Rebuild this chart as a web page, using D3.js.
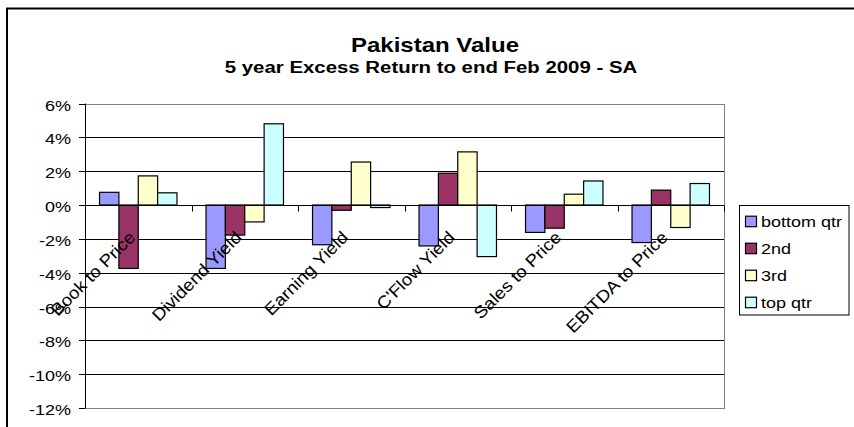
<!DOCTYPE html>
<html>
<head>
<meta charset="utf-8">
<script src="https://cdn.jsdelivr.net/npm/d3@7"></script>
<style>
  body { margin: 0; background: #fff; }
  text { font-family: "Liberation Sans", Arial, sans-serif; fill: #000; }
</style>
</head>
<body>
<svg id="chart"></svg>
<script>
// data
const categories = ["Book to Price", "Dividend Yield", "Earning Yield", "C'Flow Yield", "Sales to Price", "EBITDA to Price"];
const series = ["bottom qtr", "2nd", "3rd", "top qtr"];
const bottomQtr = [0.75, -3.75, -2.35, -2.42, -1.62, -2.22];
const second = [-3.75, -1.78, -0.31, 1.88, -1.37, 0.88];
const third = [1.72, -1.0, 2.54, 3.14, 0.64, -1.33];
const topQtr = [0.72, 4.8, -0.15, -3.05, 1.42, 1.27];
const yTicks = [6, 4, 2, 0, -2, -4, -6, -8, -10, -12];
const colors = ["#9999FF", "#993366", "#FFFFCC", "#CCFFFF"];

const values = [bottomQtr, second, third, topQtr];

const width = 854;
const height = 427;
const sx = 1.2; // picture is stretched horizontally a bit

const svg = d3.select('svg#chart').attr('width', width).attr('height', height);

// chart border (cut off at right and bottom)
svg.append('rect')
  .attr('x', 7).attr('y', 8.5)
  .attr('width', 1000).attr('height', 600)
  .attr('fill', 'none').attr('stroke', '#000').attr('stroke-width', 2);

const plot = { left: 85, right: 724, top: 103.5, bottom: 408 };

const y = d3.scaleLinear().domain([-12, 6]).range([plot.bottom, plot.top]);
const x0 = d3.scaleBand().domain(categories)
  .range([plot.left, plot.right])
  .paddingInner(1.5 / 5.5).paddingOuter(1.5 / 11);
const x1 = d3.scaleBand().domain(series).range([0, x0.bandwidth()]);
const step = x0.step();

function txt(g, x, yy, s, size, bold, anchor) {
  return g.append('text')
    .attr('transform', 'translate(' + x + ',' + yy + ') scale(' + sx + ',1)')
    .attr('text-anchor', anchor || 'start')
    .style('font-size', size + 'px')
    .style('font-weight', bold ? 'bold' : 'normal')
    .text(s);
}

// titles
txt(svg, 435, 51.7, "Pakistan Value", 20, true, 'middle');
txt(svg, 431, 72.7, "5 year Excess Return to end Feb 2009 - SA", 17, true, 'middle');

// gridlines
svg.append('g').selectAll('line').data(yTicks).enter().append('line')
  .attr('x1', plot.left).attr('x2', plot.right)
  .attr('y1', d => Math.round(y(d)) + 0.5).attr('y2', d => Math.round(y(d)) + 0.5)
  .attr('stroke', '#000').attr('stroke-width', 1);

// plot area border
svg.append('rect')
  .attr('x', plot.left + 0.5).attr('y', Math.round(plot.top) + 0.5)
  .attr('width', plot.right - plot.left)
  .attr('height', Math.round(plot.bottom) - Math.round(plot.top))
  .attr('fill', 'none').attr('stroke', '#808080');

// bars
const groups = svg.append('g').selectAll('g').data(categories).enter().append('g')
  .attr('transform', d => 'translate(' + x0(d) + ',0)');

groups.selectAll('rect')
  .data((c, i) => series.map((s, j) => ({ s: s, v: values[j][i], j: j })))
  .enter().append('rect')
  .attr('x', d => x1(d.s))
  .attr('width', x1.bandwidth())
  .attr('y', d => y(Math.max(0, d.v)))
  .attr('height', d => Math.abs(y(d.v) - y(0)))
  .attr('fill', d => colors[d.j])
  .attr('stroke', '#000').attr('stroke-width', 1.2);

// y axis
const yAxis = svg.append('g');
yAxis.append('line')
  .attr('x1', plot.left + 0.5).attr('x2', plot.left + 0.5)
  .attr('y1', plot.top).attr('y2', plot.bottom + 0.5)
  .attr('stroke', '#000');
yTicks.forEach(t => {
  yAxis.append('line')
    .attr('x1', plot.left - 6).attr('x2', plot.left)
    .attr('y1', Math.round(y(t)) + 0.5).attr('y2', Math.round(y(t)) + 0.5)
    .attr('stroke', '#000');
  txt(yAxis, 71, y(t) + 7, t + '%', 15, false, 'end');
});

// x axis at zero, with ticks between categories
const xAxis = svg.append('g');
const y0 = Math.round(y(0)) + 0.5;
xAxis.append('line')
  .attr('x1', plot.left).attr('x2', plot.right)
  .attr('y1', y0).attr('y2', y0).attr('stroke', '#000');
d3.range(categories.length + 1).forEach(i => {
  const xx = Math.round(plot.left + i * step) + 0.5;
  xAxis.append('line')
    .attr('x1', xx).attr('x2', xx)
    .attr('y1', y0).attr('y2', y0 + 6).attr('stroke', '#000');
});

// rotated category labels
categories.forEach(c => {
  const cx = x0(c) + x0.bandwidth() / 2;
  xAxis.append('text')
    .attr('transform', 'translate(' + (cx - 2) + ',238.5) rotate(-45) scale(1.1,1)')
    .attr('text-anchor', 'end')
    .style('font-size', '17px')
    .text(c);
});

// legend
const legend = svg.append('g');
legend.append('rect')
  .attr('x', 739.5).attr('y', 205.5).attr('width', 109.5).attr('height', 109.5)
  .attr('fill', '#fff').attr('stroke', '#000');
series.forEach((s, i) => {
  const cy = 221.7 + i * 27;
  legend.append('rect')
    .attr('x', 745.5).attr('y', cy - 5.5).attr('width', 11).attr('height', 10.5)
    .attr('fill', colors[i]).attr('stroke', '#000').attr('stroke-width', 1.2);
  txt(legend, 761, cy + 5.5, s, 15, false, 'start');
});
</script>
</body>
</html>
